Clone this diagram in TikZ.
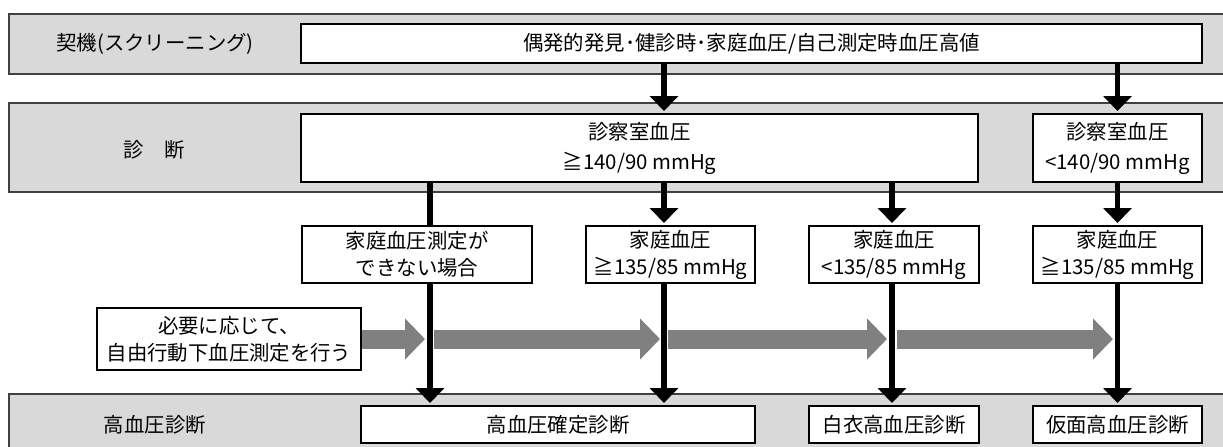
\documentclass[tikz,border=0pt]{standalone}
\usepackage{fontspec}
\setmainfont{Noto Sans CJK JP}
\usetikzlibrary{arrows.meta,positioning}

\begin{document}
\begin{tikzpicture}[x=0.5pt,y=-0.5pt,
    font=\fontsize{10.2pt}{13.5pt}\selectfont,
    band/.style={draw=black!75,line width=0.8pt,fill=black!15},
    box/.style={rectangle,draw,line width=1pt,fill=white,align=center,inner sep=0pt},
    tall/.style={font=\fontsize{10.2pt}{15pt}\selectfont},
    stage/.style={inner sep=0pt},
    arr/.style={line width=2.6pt,-{Triangle[width=14pt,length=7.5pt]},shorten >=1pt},
    flow/.style={draw=black!50,line width=9.5pt,-{Triangle[width=20pt,length=10pt]}}]
  \useasboundingbox (0,0) rectangle (1223,446);
  \clip (0,0) rectangle (1223,446);

  \draw[band] (9,14) rectangle (1240,74);
  \draw[band] (9,103) rectangle (1240,192);
  \draw[band] (9,394) rectangle (1240,460);

  \node[stage] (s1) at (155,44) {契機(スクリーニング)};
  \node[stage] (s2) at (154,150) {診　断};
  \node[stage] (s3) at (155,424.5) {高血圧診断};

  \node[box,minimum width=450.5pt,minimum height=19.5pt] (trig) at (751.5,43.5)
    {偶発的発見･健診時･家庭血圧/自己測定時血圧高値};
  \node[box,tall,minimum width=338.5pt,minimum height=34pt] (off1) at (639.5,148)
    {診察室血圧\\≧140/90 mmHg};
  \node[box,tall,minimum width=84.5pt,minimum height=34pt] (off2) at (1117.5,148)
    {診察室血圧\\<140/90 mmHg};

  \node[box,minimum width=115pt,minimum height=28.5pt] (homeA) at (417,254.5)
    {家庭血圧測定が\\できない場合};
  \node[box,minimum width=84.5pt,minimum height=28.5pt] (homeB) at (670.5,254.5)
    {家庭血圧\\≧135/85 mmHg};
  \node[box,minimum width=85pt,minimum height=28.5pt] (homeC) at (894,254.5)
    {家庭血圧\\<135/85 mmHg};
  \node[box,minimum width=84.5pt,minimum height=28.5pt] (homeD) at (1117.5,254.5)
    {家庭血圧\\≧135/85 mmHg};

  \node[box,minimum width=132pt,minimum height=31pt] (abpm) at (229,339)
    {必要に応じて、\\自由行動下血圧測定を行う};

  \node[box,minimum width=197pt,minimum height=18.5pt] (diag1) at (558,424.5) {高血圧確定診断};
  \node[box,minimum width=85pt,minimum height=18.5pt] (diag2) at (894,424.5) {白衣高血圧診断};
  \node[box,minimum width=84.5pt,minimum height=18.5pt] (diag3) at (1117.5,424.5) {仮面高血圧診断};

  \coordinate (c1) at (430,0);
  \coordinate (c2) at (664,0);
  \coordinate (c3) at (892,0);
  \coordinate (c4) at (1117.5,0);
  \coordinate (g1) at (abpm.east -| c1);
  \coordinate (g2) at (abpm.east -| c2);
  \coordinate (g3) at (abpm.east -| c3);
  \coordinate (g4) at (abpm.east -| c4);

  \draw[flow] (abpm.east) -- ([xshift=-2.5pt]g1);
  \draw[flow] ([xshift=2pt]g1) -- ([xshift=-2pt]g2);
  \draw[flow] ([xshift=2pt]g2) -- ([xshift=-2.5pt]g3);
  \draw[flow] ([xshift=2.5pt]g3) -- ([xshift=-2.25pt]g4);

  \draw[arr] (trig.south -| c2) -- (off1.north -| c2);
  \draw[arr] (trig.south -| c4) -- (off2.north -| c4);
  \draw[line width=2.6pt] (off1.south -| c1) -- (homeA.north -| c1);
  \draw[arr] (off1.south -| c2) -- (homeB.north -| c2);
  \draw[arr] (off1.south -| c3) -- (homeC.north -| c3);
  \draw[arr] (off2.south -| c4) -- (homeD.north -| c4);
  \draw[arr] (homeA.south -| c1) -- (diag1.north -| c1);
  \draw[arr] (homeB.south -| c2) -- (diag1.north -| c2);
  \draw[arr] (homeC.south -| c3) -- (diag2.north -| c3);
  \draw[arr] (homeD.south -| c4) -- (diag3.north -| c4);
\end{tikzpicture}
\end{document}
